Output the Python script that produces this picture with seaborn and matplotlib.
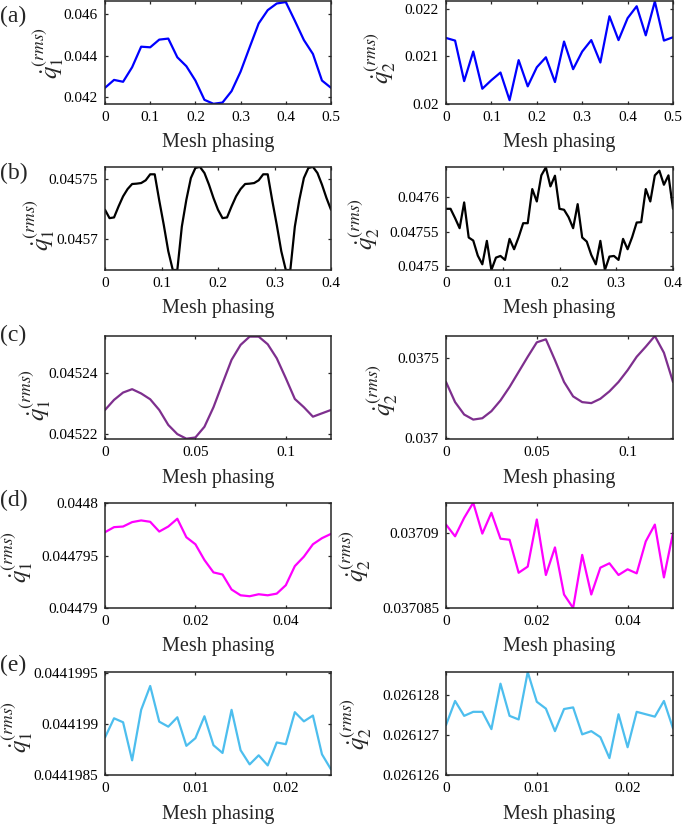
import numpy as np
import pandas as pd
import matplotlib
matplotlib.use("Agg")
import matplotlib.pyplot as plt
import seaborn as sns

sns.set_theme(style="ticks")
plt.rcParams["font.family"] = ["Liberation Serif", "DejaVu Serif"]
plt.rcParams["mathtext.fontset"] = "stix"

# ---------------- data ----------------
x_a = np.linspace(0, 0.5, 26)
x_b = np.linspace(0, 0.4, 51)
x_c = np.linspace(0, 0.125, 26)
x_d = np.linspace(0, 0.05, 26)
x_e = np.linspace(0, 0.025, 26)

a_q1 = [0.04245, 0.04283, 0.04274, 0.04344, 0.04443, 0.04440, 0.04477, 0.04482, 0.04392,
        0.04349, 0.04280, 0.04187, 0.04168, 0.04174, 0.04229, 0.04323, 0.04440, 0.04555,
        0.04619, 0.04651, 0.04658, 0.04568, 0.04475, 0.04408, 0.04280, 0.04245]
a_q2 = [0.021385, 0.02133, 0.02048, 0.02110, 0.02032, 0.02050, 0.02066, 0.02008, 0.02092,
        0.02037, 0.02077, 0.02098, 0.02046, 0.02131, 0.02073, 0.02110, 0.02134, 0.02087,
        0.02184, 0.02134, 0.02180, 0.02205, 0.02144, 0.02215, 0.02133, 0.02140]

b_q1 = [0.0457243, 0.0457173, 0.0457179, 0.0457271, 0.0457355, 0.0457416, 0.0457458, 0.0457461,
        0.0457466, 0.0457489, 0.0457539, 0.0457539, 0.0457321, 0.0457117, 0.0456897, 0.0456740,
        0.0456740, 0.0457103, 0.0457327, 0.0457508, 0.0457592, 0.0457601, 0.0457550, 0.0457453,
        0.0457341, 0.0457243,
        0.0457173, 0.0457179, 0.0457271, 0.0457355, 0.0457416, 0.0457458, 0.0457461,
        0.0457466, 0.0457489, 0.0457539, 0.0457539, 0.0457321, 0.0457117, 0.0456897, 0.0456740,
        0.0456740, 0.0457103, 0.0457327, 0.0457508, 0.0457592, 0.0457601, 0.0457550, 0.0457453,
        0.0457341, 0.0457243]
b_q2 = [0.0475834, 0.0475834, 0.0475698, 0.0475551, 0.0475927, 0.0475415, 0.0475371, 0.0475151,
        0.0475024, 0.0475366, 0.0474941, 0.0475122, 0.0475146, 0.0475088, 0.0475395, 0.0475244,
        0.0475420, 0.0475624, 0.0475624, 0.0476122, 0.0475941, 0.0476322, 0.0476439, 0.0476161,
        0.0476317, 0.0475834,
        0.0475820, 0.0475712, 0.0475551, 0.0475902, 0.0475415, 0.0475356, 0.0475161, 0.0475024,
        0.0475366, 0.0474941, 0.0475137, 0.0475146, 0.0475088, 0.0475395, 0.0475244, 0.0475420,
        0.0475634, 0.0475639, 0.0476122, 0.0475941, 0.0476322, 0.0476390, 0.0476185, 0.0476322,
        0.0475834]

c_q1 = [0.0452280, 0.0452313, 0.0452337, 0.0452348, 0.0452334, 0.0452315, 0.0452280, 0.0452231,
        0.0452201, 0.0452186, 0.0452190, 0.0452225, 0.0452289, 0.0452367, 0.0452444, 0.0452493,
        0.0452520, 0.0452520, 0.0452495, 0.0452449, 0.0452384, 0.0452316, 0.0452289, 0.0452258,
        0.0452269, 0.0452280]
c_q2 = [0.0373523, 0.0372257, 0.0371477, 0.0371160, 0.0371245, 0.0371688, 0.0372363, 0.0373207,
        0.0374156, 0.0375105, 0.0376013, 0.0376203, 0.0374895, 0.0373523, 0.0372616, 0.0372257,
        0.0372194, 0.0372468, 0.0372933, 0.0373523, 0.0374262, 0.0375105, 0.0375738, 0.0376413,
        0.0375359, 0.0373523]

d_q1 = [0.04479722, 0.04479770, 0.04479776, 0.04479818, 0.04479834, 0.04479821, 0.04479728,
        0.04479776, 0.04479850, 0.04479674, 0.04479607, 0.04479457, 0.04479339, 0.04479319,
        0.04479176, 0.04479121, 0.04479112, 0.04479131, 0.04479121, 0.04479137, 0.04479217,
        0.04479399, 0.04479489, 0.04479607, 0.04479665, 0.04479706]
d_q2 = [0.03709056, 0.03708978, 0.03709101, 0.03709202, 0.03708996, 0.03709135, 0.03708962,
        0.03708955, 0.03708735, 0.03708776, 0.03709090, 0.03708720, 0.03708904, 0.03708590,
        0.03708500, 0.03708854, 0.03708590, 0.03708769, 0.03708798, 0.03708720, 0.03708758,
        0.03708731, 0.03708944, 0.03709056, 0.03708704, 0.03709000]

e_q1 = [0.044198868, 0.044199056, 0.044199017, 0.044198644, 0.044199139, 0.044199373,
        0.044199023, 0.044198974, 0.044199066, 0.044198786, 0.044198861, 0.044199076,
        0.044198792, 0.044198716, 0.044199139, 0.044198743, 0.044198604, 0.044198693,
        0.044198594, 0.044198819, 0.044198802, 0.044199116, 0.044199026, 0.044199083,
        0.044198703, 0.044198555]
e_q2 = [0.02612724, 0.02612784, 0.02612747, 0.02612757, 0.02612757, 0.02612714, 0.02612827,
        0.02612747, 0.02612738, 0.02612856, 0.02612782, 0.02612765, 0.02612709, 0.02612764,
        0.02612768, 0.02612701, 0.02612709, 0.02612694, 0.02612642, 0.02612751, 0.02612669,
        0.02612757, 0.02612751, 0.02612745, 0.02612784, 0.02612716]

# tick values / labels
xt_a = [0, 0.1, 0.2, 0.3, 0.4, 0.5]; xl_a = ["0", "0.1", "0.2", "0.3", "0.4", "0.5"]
xt_b = [0, 0.1, 0.2, 0.3, 0.4];      xl_b = ["0", "0.1", "0.2", "0.3", "0.4"]
xt_c = [0, 0.05, 0.1];               xl_c = ["0", "0.05", "0.1"]
xt_d = [0, 0.02, 0.04];              xl_d = ["0", "0.02", "0.04"]
xt_e = [0, 0.01, 0.02];              xl_e = ["0", "0.01", "0.02"]

yt_a1 = [0.042, 0.044, 0.046];            yl_a1 = ["0.042", "0.044", "0.046"]
yt_a2 = [0.020, 0.021, 0.022];            yl_a2 = ["0.02", "0.021", "0.022"]
yt_b1 = [0.0457, 0.04575];                yl_b1 = ["0.0457", "0.04575"]
yt_b2 = [0.0475, 0.04755, 0.0476];        yl_b2 = ["0.0475", "0.04755", "0.0476"]
yt_c1 = [0.04522, 0.04524];               yl_c1 = ["0.04522", "0.04524"]
yt_c2 = [0.037, 0.0375];                  yl_c2 = ["0.037", "0.0375"]
yt_d1 = [0.04479, 0.044795, 0.0448];      yl_d1 = ["0.04479", "0.044795", "0.0448"]
yt_d2 = [0.037085, 0.03709];              yl_d2 = ["0.037085", "0.03709"]
yt_e1 = [0.0441985, 0.044199, 0.0441995]; yl_e1 = ["0.0441985", "0.044199", "0.0441995"]
yt_e2 = [0.026126, 0.026127, 0.026128];   yl_e2 = ["0.026126", "0.026127", "0.026128"]

ylim_a1 = (0.04167, 0.04663); ylim_a2 = (0.0200, 0.02216)
ylim_b1 = (0.045674, 0.045760); ylim_b2 = (0.0474941, 0.0476444)
ylim_c1 = (0.0452185, 0.0452522); ylim_c2 = (0.036994, 0.037641)
ylim_d1 = (0.04479, 0.0448); ylim_d2 = (0.037085, 0.037092)
ylim_e1 = (0.0441985, 0.04419951); ylim_e2 = (0.026126, 0.02612856)

panel_letters = ["(a)", "(b)", "(c)", "(d)", "(e)"]
colors = ["#0000FF", "#000000", "#7E2F8E", "#FF00FF", "#4DBEEE"]

rows = [
    (x_a, a_q1, a_q2, xt_a, xl_a, (yt_a1, yl_a1, ylim_a1), (yt_a2, yl_a2, ylim_a2)),
    (x_b, b_q1, b_q2, xt_b, xl_b, (yt_b1, yl_b1, ylim_b1), (yt_b2, yl_b2, ylim_b2)),
    (x_c, c_q1, c_q2, xt_c, xl_c, (yt_c1, yl_c1, ylim_c1), (yt_c2, yl_c2, ylim_c2)),
    (x_d, d_q1, d_q2, xt_d, xl_d, (yt_d1, yl_d1, ylim_d1), (yt_d2, yl_d2, ylim_d2)),
    (x_e, e_q1, e_q2, xt_e, xl_e, (yt_e1, yl_e1, ylim_e1), (yt_e2, yl_e2, ylim_e2)),
]

# ---------------- layout (pixels) ----------------
W, H = 685, 824
fig = plt.figure(figsize=(W / 100, H / 100), dpi=100)
col_x = [(105, 226), (446, 227)]
row_y = [(1, 104), (167, 270), (336, 439), (503, 608), (672, 775)]
letter_y = [16, 173, 335, 500, 665]
ylab_pos = [((-0.25, 0.50), (-0.29, 0.45)),
            ((-0.29, 0.44), (-0.36, 0.45)),
            ((-0.31, 0.43), (-0.28, 0.48)),
            ((-0.39, 0.49), (-0.40, 0.50)),
            ((-0.39, 0.47), (-0.395, 0.50))]

for r, (x, q1, q2, xt, xl, left, right) in enumerate(rows):
    top, bot = row_y[r]
    for c, (series, (yt, yl, ylim)) in enumerate([(q1, left), (q2, right)]):
        lx, w = col_x[c]
        ax = fig.add_axes([lx / W, 1 - bot / H, w / W, (bot - top) / H])
        df = pd.DataFrame({"phase": x, "val": series})
        sns.lineplot(data=df, x="phase", y="val", ax=ax, color=colors[r], linewidth=1.6)
        ax.set_xlim(x[0], x[-1])
        ax.set_ylim(*ylim)
        ax.set_xticks(xt, xl)
        ax.set_yticks(yt, yl)
        ax.tick_params(direction="in", top=True, right=True, length=2.5, width=0.9,
                       labelsize=11, colors="#262626", pad=5)
        ax.tick_params(labelcolor="black")
        for s in ax.spines.values():
            s.set_linewidth(1.1)
            s.set_color("#262626")
            s.set_visible(True)
        ax.set_xlabel("Mesh phasing", fontsize=14.5, va="center")
        ax.xaxis.set_label_coords(0.5, -39 / (bot - top))
        ax.set_ylabel(r"$\dot{q}_%d^{(rms)}$" % (c + 1), fontsize=18, va="center", ha="center")
        ax.yaxis.set_label_coords(*ylab_pos[r][c])
    fig.text(0.0, 1 - letter_y[r] / H, panel_letters[r], fontsize=17, va="center", ha="left")

fig.savefig("out.png", dpi=100)
